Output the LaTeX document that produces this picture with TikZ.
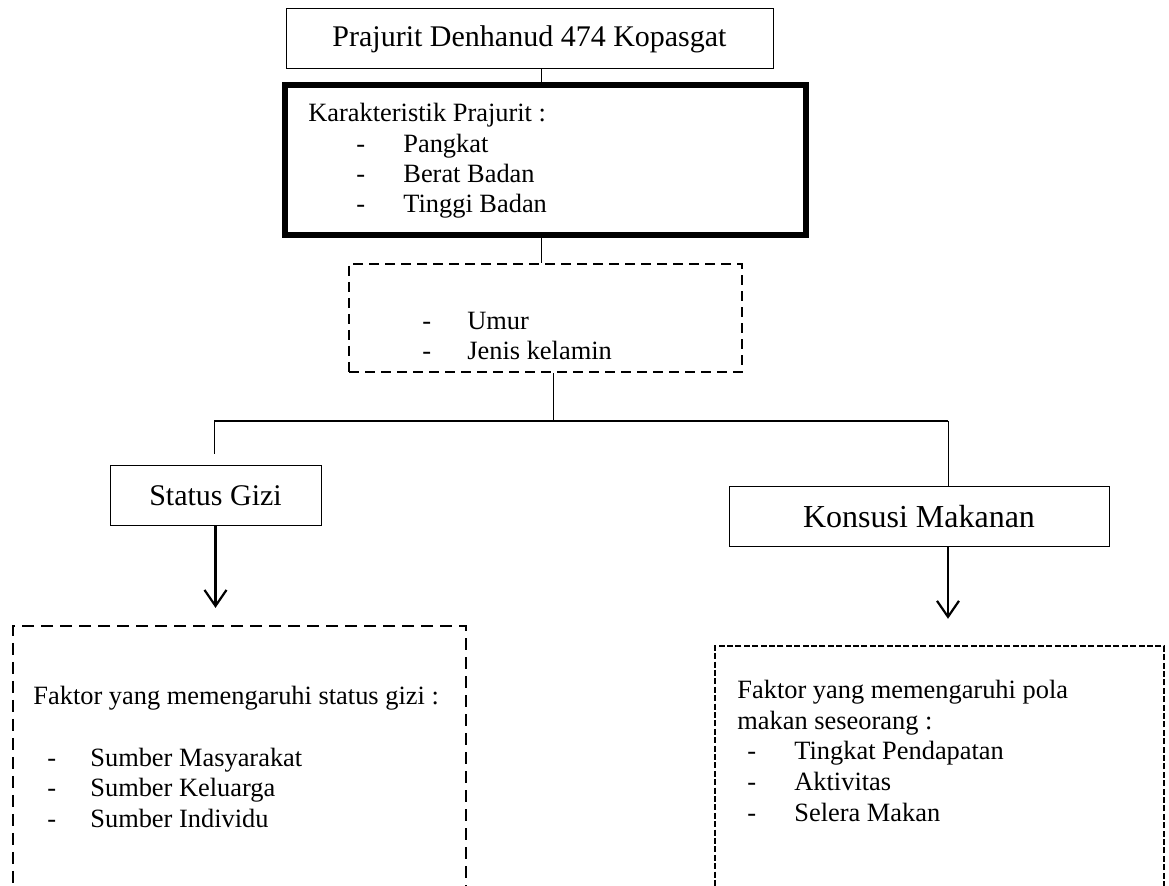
\documentclass[tikz,border=0pt]{standalone}
\usepackage{fontspec}
\setmainfont{Liberation Serif}
\usetikzlibrary{arrows.meta}
\newcommand{\butir}[2]{\makebox[#1][l]{-}#2}
\tikzset{
  kotak/.style={draw, line width=0.5pt, inner sep=0pt},
  putus/.style={draw, line width=1.1pt, dash pattern=on 5pt off 3pt, inner sep=0pt},
  teks/.style={inner sep=0pt, anchor=base west, font=\fontsize{13.2}{15}\selectfont},
  garis/.style={line width=0.5pt},
  panah/.style={line width=1.1pt, -{Straight Barb[length=8pt,width=11pt]}},
}
\begin{document}
\begin{tikzpicture}[x=0.5pt,y=-0.5pt]
        \useasboundingbox (0,0) rectangle (1169,886);

        \node[kotak, minimum width=243.5pt, minimum height=30pt, font=\fontsize{15}{18}\selectfont] (prajurit) at (529.5,39) {Prajurit Denhanud 474 Kopasgat};
        \node[draw, line width=3pt, minimum width=260.5pt, minimum height=75pt] (karakteristik) at (545.5,160) {};
        \node[putus, minimum width=196.5pt, minimum height=54pt] (usia) at (545.5,318) {};
        \node[kotak, minimum width=105.5pt, minimum height=30pt, font=\fontsize{15}{18}\selectfont] (gizi) at (215.5,496) {Status Gizi};
        \node[kotak, minimum width=190pt, minimum height=30pt, font=\fontsize{16}{19}\selectfont] (konsumsi) at (919,517) {Konsusi Makanan};
        \node[putus, dash pattern=on 6pt off 3.5pt, minimum width=226.5pt, minimum height=137pt] (faktorgizi) at (239.5,763) {};
        \node[putus, line width=1.2pt, dash pattern=on 3pt off 1.2pt, minimum width=224.5pt, minimum height=127pt] (faktormakan) at (939.5,773) {};

        % connectors
        \coordinate (sumbu) at (541,0);
        \coordinate (cabang) at (553,421);
        \coordinate (kiri) at (214,421);
        \coordinate (kanan) at (948,421);
        \coordinate (kiriujung) at (214,454);
        \draw[garis] (prajurit.south -| sumbu) -- (karakteristik.north -| sumbu);
        \draw[garis] (karakteristik.south -| sumbu) -- (usia.north -| sumbu);
        \draw[garis] (usia.south -| cabang) -- (cabang);
        \draw[line width=1pt] (kiri) -- (kanan);
        \draw[garis] (kiri) -- (kiriujung);
        \draw[garis] (kanan) -- (konsumsi.north -| kanan);
        \draw[panah, shorten >=8.5pt] (gizi.south) -- (faktorgizi.north -| gizi.south);
        \draw[panah, shorten >=13pt] (konsumsi.south -| kanan) -- (faktormakan.north -| kanan);

        \node[teks] (judul1) at (308,122) {Karakteristik Prajurit :};
        \node[teks] (ciri1) at (356,153) {\butir{23.5pt}{Pangkat}};
        \node[teks] (ciri2) at (356,183) {\butir{23.5pt}{Berat Badan}};
        \node[teks] (ciri3) at (356,213) {\butir{23.5pt}{Tinggi Badan}};

        \node[teks] (usia1) at (422,330) {\butir{22.5pt}{Umur}};
        \node[teks] (usia2) at (422,360) {\butir{22.5pt}{Jenis kelamin}};

        \node[teks] (judul2) at (33,705) {Faktor yang memengaruhi status gizi :};
        \node[teks] (sumber1) at (47,767) {\butir{21.5pt}{Sumber Masyarakat}};
        \node[teks] (sumber2) at (47,797) {\butir{21.5pt}{Sumber Keluarga}};
        \node[teks] (sumber3) at (47,828) {\butir{21.5pt}{Sumber Individu}};

        \node[teks] (judul3) at (737,699) {Faktor yang memengaruhi pola};
        \node[teks] (judul3b) at (737,730) {makan seseorang :};
        \node[teks] (pola1) at (747,760) {\butir{23.5pt}{Tingkat Pendapatan}};
        \node[teks] (pola2) at (747,791) {\butir{23.5pt}{Aktivitas}};
        \node[teks] (pola3) at (747,822) {\butir{23.5pt}{Selera Makan}};

\end{tikzpicture}
\end{document}
